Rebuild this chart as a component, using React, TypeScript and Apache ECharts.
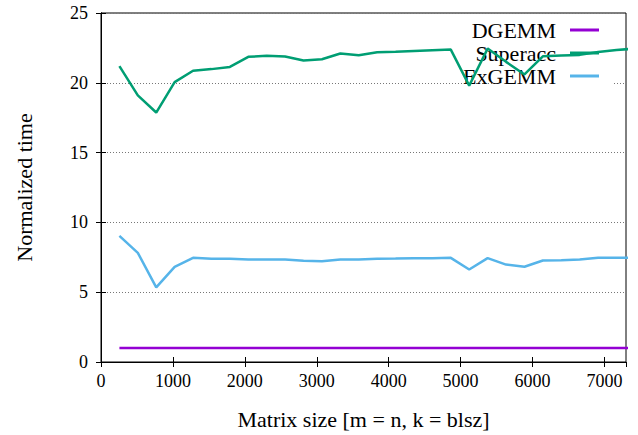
import React, { useEffect, useRef } from "react";
import * as echarts from "echarts";

const sizes = [256, 512, 768, 1024, 1280, 1536, 1792, 2048, 2304, 2560, 2816, 3072, 3328, 3584, 3840, 4096, 4352, 4608, 4864, 5120, 5376, 5632, 5888, 6144, 6400, 6656, 6912, 7168, 7424];
const dgemm = [1, 1, 1, 1, 1, 1, 1, 1, 1, 1, 1, 1, 1, 1, 1, 1, 1, 1, 1, 1, 1, 1, 1, 1, 1, 1, 1, 1, 1];
const superacc = [21.19, 19.1, 17.87, 20.05, 20.86, 20.98, 21.14, 21.86, 21.93, 21.88, 21.6, 21.69, 22.1, 21.97, 22.19, 22.22, 22.28, 22.33, 22.38, 19.8, 22.45, 21.5, 20.6, 21.9, 21.95, 22.0, 22.2, 22.35, 22.45];
const exgemm = [9.03, 7.82, 5.35, 6.82, 7.46, 7.39, 7.39, 7.34, 7.34, 7.34, 7.25, 7.22, 7.34, 7.34, 7.39, 7.41, 7.44, 7.44, 7.46, 6.63, 7.44, 6.98, 6.82, 7.27, 7.29, 7.34, 7.46, 7.46, 7.46];
const seriesNames = ["DGEMM", "Superacc", "ExGEMM"];
const colors = ["#9400D3", "#009E73", "#56B4E9"];

const FONT = "'Liberation Serif', 'Times New Roman', serif";

export default function App() {
  const ref = useRef<HTMLDivElement>(null);
  useEffect(() => {
    if (!ref.current) return;
    const chart = echarts.init(ref.current, undefined, { renderer: "svg" });
    const mk = (vals: number[]) => sizes.map((s, i) => [s, vals[i]]);
    const allData = [dgemm, superacc, exgemm];
    chart.setOption({
      animation: false,
      textStyle: { fontFamily: FONT },
      grid: { left: 101, right: 12, top: 13, bottom: 71, show: true, borderColor: "#000", borderWidth: 1, backgroundColor: "transparent" },
      legend: {
        orient: "vertical",
        right: 39,
        top: 19,
        padding: 0,
        align: "right",
        itemWidth: 29,
        itemHeight: 3,
        itemGap: 1,
        icon: "rect",
        z: 1,
        textStyle: { fontFamily: FONT, fontSize: 22, color: "#000", padding: [0, 9, 0, 0] },
        data: seriesNames,
      },
      graphic: [
        { type: "rect", z: 1, shape: { x: 495, y: 80, width: 117, height: 7 }, style: { fill: "#fff" } },
      ],
      xAxis: [
        {
          type: "value",
          min: 0,
          max: 7300,
          interval: 1000,
          name: "Matrix size [m = n, k = blsz]",
          nameLocation: "middle",
          nameGap: 46,
          nameTextStyle: { fontFamily: FONT, fontSize: 22, color: "#000" },
          axisLine: { show: true, lineStyle: { color: "#000", width: 1 } },
          axisTick: { show: true, inside: true, length: 5, lineStyle: { color: "#000" } },
          axisLabel: { fontFamily: FONT, fontSize: 18, color: "#000", margin: 10, showMaxLabel: false, formatter: (v: number) => String(v) },
          splitLine: { show: false },
        },
        {
          type: "value",
          position: "top",
          min: 0,
          max: 7300,
          interval: 1000,
          axisLine: { show: true, lineStyle: { color: "#000", width: 1 } },
          axisTick: { show: true, inside: true, length: 5, lineStyle: { color: "#000" } },
          axisLabel: { show: false },
          splitLine: { show: false },
        },
      ],
      yAxis: [
        {
          type: "value",
          min: 0,
          max: 25,
          interval: 5,
          name: "Normalized time",
          nameLocation: "middle",
          nameGap: 66,
          nameTextStyle: { fontFamily: FONT, fontSize: 22, color: "#000" },
          axisLine: { show: true, lineStyle: { color: "#000", width: 1 } },
          axisTick: { show: true, inside: true, length: 5, lineStyle: { color: "#000" } },
          axisLabel: { fontFamily: FONT, fontSize: 18, color: "#000", margin: 13, formatter: (v: number) => String(v) },
          splitLine: { show: true, lineStyle: { color: "#777", type: [1, 2], width: 1 } },
        },
        {
          type: "value",
          position: "right",
          min: 0,
          max: 25,
          interval: 5,
          axisLine: { show: true, lineStyle: { color: "#000", width: 1 } },
          axisTick: { show: true, inside: true, length: 5, lineStyle: { color: "#000" } },
          axisLabel: { show: false },
          splitLine: { show: false },
        },
      ],
      series: seriesNames.map((name, k) => ({
        name,
        type: "line",
        data: mk(allData[k]),
        xAxisIndex: 0,
        yAxisIndex: 0,
        showSymbol: false,
        symbol: "none",
        z: 2,
        lineStyle: { color: colors[k], width: 2.5 },
        itemStyle: { color: colors[k] },
      })),
    });
    return () => chart.dispose();
  }, []);
  return <div ref={ref} style={{ width: 638, height: 435, position: "absolute", left: 0, top: 0 }} />;
}
